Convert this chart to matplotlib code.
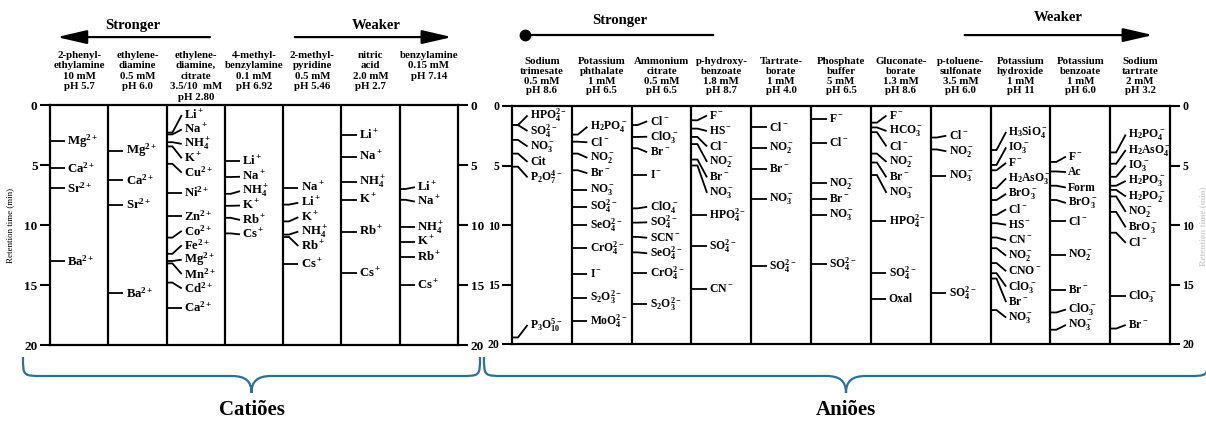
import numpy as np
import matplotlib
matplotlib.use("Agg")
import matplotlib.pyplot as plt
from matplotlib.path import Path
from matplotlib.patches import PathPatch

plt.rcParams.update({
    "font.family": ["Liberation Serif", "DejaVu Serif"],
    "font.weight": "bold",
    "mathtext.fontset": "custom",
    "mathtext.rm": "Liberation Serif:bold",
    "mathtext.it": "Liberation Serif:bold",
    "mathtext.bf": "Liberation Serif:bold",
    "mathtext.sf": "Liberation Serif:bold",
    "mathtext.default": "rm",
})

# ---------------- data ----------------
cation_headers = [
    "2-phenyl-\nethylamine\n10 mM\npH 5.7",
    "ethylene-\ndiamine\n0.5 mM\npH 6.0",
    "ethylene-\ndiamine,\ncitrate\n3.5/10  mM\npH 2.80",
    "4-methyl-\nbenzylamine\n0.1 mM\npH 6.92",
    "2-methyl-\npyridine\n0.5 mM\npH 5.46",
    "nitric\nacid\n2.0 mM\npH 2.7",
    "benzylamine\n0.15 mM\npH 7.14",
]
cation_ions = [
    ["Mg$^{2+}$", "Ca$^{2+}$", "Sr$^{2+}$", "Ba$^{2+}$"],
    ["Mg$^{2+}$", "Ca$^{2+}$", "Sr$^{2+}$", "Ba$^{2+}$"],
    ["Li$^+$", "Na$^+$", "NH$_4^+$", "K$^+$", "Cu$^{2+}$", "Ni$^{2+}$", "Zn$^{2+}$",
     "Co$^{2+}$", "Fe$^{2+}$", "Mg$^{2+}$", "Mn$^{2+}$", "Cd$^{2+}$", "Ca$^{2+}$"],
    ["Li$^+$", "Na$^+$", "NH$_4^+$", "K$^+$", "Rb$^+$", "Cs$^+$"],
    ["Na$^+$", "Li$^+$", "K$^+$", "NH$_4^+$", "Rb$^+$", "Cs$^+$"],
    ["Li$^+$", "Na$^+$", "NH$_4^+$", "K$^+$", "Rb$^+$", "Cs$^+$"],
    ["Li$^+$", "Na$^+$", "NH$_4^+$", "K$^+$", "Rb$^+$", "Cs$^+$"],
]
cation_times = [
    [3.0, 5.25, 6.9, 13.0],
    [3.8, 6.25, 8.3, 15.7],
    [2.3, 2.45, 3.1, 3.45, 4.9, 7.3, 9.25, 11.05, 12.4, 13.0, 13.2, 14.8, 16.9],
    [4.7, 6.0, 7.4, 8.4, 9.4, 10.7],
    [6.9, 8.3, 9.7, 10.8, 11.0, 13.25],
    [2.5, 4.3, 6.4, 7.9, 10.55, 14.0],
    [7.0, 7.9, 10.2, 11.4, 12.7, 15.0],
]

anion_headers = [
    "Sodium\ntrimesate\n0.5 mM\npH 8.6",
    "Potassium\nphthalate\n1 mM\npH 6.5",
    "Ammonium\ncitrate\n0.5 mM\npH 6.5",
    "p-hydroxy-\nbenzoate\n1.8 mM\npH 8.7",
    "Tartrate-\nborate\n1 mM\npH 4.0",
    "Phosphate\nbuffer\n5 mM\npH 6.5",
    "Gluconate-\nborate\n1.3 mM\npH 8.6",
    "p-toluene-\nsulfonate\n3.5 mM\npH 6.0",
    "Potassium\nhydroxide\n1 mM\npH 11",
    "Potassium\nbenzoate\n1 mM\npH 6.0",
    "Sodium\ntartrate\n2 mM\npH 3.2",
]
anion_ions = [
    ["HPO$_4^{2-}$", "SO$_4^{2-}$", "NO$_3^-$", "Cit", "P$_2$O$_7^{4-}$", "P$_3$O$_{10}^{5-}$"],
    ["H$_2$PO$_4^-$", "Cl$^-$", "NO$_2^-$", "Br$^-$", "NO$_3^-$", "SO$_4^{2-}$", "SeO$_4^{2-}$",
     "CrO$_4^{2-}$", "I$^-$", "S$_2$O$_3^{2-}$", "MoO$_4^{2-}$"],
    ["Cl$^-$", "ClO$_3^-$", "Br$^-$", "I$^-$", "ClO$_4^-$", "SO$_4^{2-}$", "SCN$^-$",
     "SeO$_4^{2-}$", "CrO$_4^{2-}$", "S$_2$O$_3^{2-}$"],
    ["F$^-$", "HS$^-$", "Cl$^-$", "NO$_2^-$", "Br$^-$", "NO$_3^-$", "HPO$_4^{2-}$",
     "SO$_4^{2-}$", "CN$^-$"],
    ["Cl$^-$", "NO$_2^-$", "Br$^-$", "NO$_3^-$", "SO$_4^{2-}$"],
    ["F$^-$", "Cl$^-$", "NO$_2^-$", "Br$^-$", "NO$_3^-$", "SO$_4^{2-}$"],
    ["F$^-$", "HCO$_3^-$", "Cl$^-$", "NO$_2^-$", "Br$^-$", "NO$_3^-$", "HPO$_4^{2-}$",
     "SO$_4^{2-}$", "Oxal"],
    ["Cl$^-$", "NO$_2^-$", "NO$_3^-$", "SO$_4^{2-}$"],
    ["H$_3$SiO$_4^-$", "IO$_3^-$", "F$^-$", "H$_2$AsO$_3^-$", "BrO$_3^-$", "Cl$^-$", "HS$^-$",
     "CN$^-$", "NO$_2^-$", "CNO$^-$", "ClO$_3^-$", "Br$^-$", "NO$_3^-$"],
    ["F$^-$", "Ac", "Form", "BrO$_3^-$", "Cl$^-$", "NO$_2^-$", "Br$^-$", "ClO$_3^-$", "NO$_3^-$"],
    ["H$_2$PO$_4^-$", "H$_2$AsO$_4^-$", "IO$_3^-$", "H$_2$PO$_3^-$", "H$_2$PO$_2^-$", "NO$_2^-$",
     "BrO$_3^-$", "Cl$^-$", "ClO$_3^-$", "Br$^-$"],
]
anion_times = [
    [1.6, 1.6, 2.85, 4.0, 5.1, 19.45],
    [2.4, 3.0, 4.0, 5.4, 7.05, 8.45, 10.0, 11.95, 14.15, 16.1, 18.1],
    [1.6, 2.6, 3.55, 5.8, 8.6, 9.8, 11.0, 12.3, 14.05, 16.65],
    [1.2, 1.9, 2.6, 3.2, 4.5, 5.0, 9.15, 11.8, 15.4],
    [1.8, 3.5, 5.3, 7.8, 13.45],
    [1.1, 3.1, 6.5, 7.85, 9.15, 13.3],
    [1.4, 1.8, 2.2, 4.0, 4.75, 5.8, 9.65, 14.05, 16.2],
    [2.65, 3.65, 5.85, 15.7],
    [3.7, 4.95, 5.4, 6.9, 7.9, 9.15, 9.85, 11.05, 11.95, 13.2, 14.05, 14.5, 17.15],
    [4.7, 5.5, 6.7, 7.9, 9.7, 12.5, 15.5, 17.35, 18.8],
    [3.9, 4.85, 5.95, 6.7, 7.05, 7.6, 8.9, 10.65, 16.0, 18.7],
]
y_ticks = [0, 5, 10, 15, 20]


# ---------------- helpers ----------------
def spread(times, gap, lo, hi):
    """Label positions: closest to the times with a minimum spacing (PAVA)."""
    t = np.asarray(times, float)
    order = np.argsort(t, kind="stable")
    ts = t[order]
    n = len(ts)
    z = ts - gap * np.arange(n)
    blocks = []
    for v in z:
        blocks.append([v, 1])
        while len(blocks) > 1 and blocks[-2][0] / blocks[-2][1] > blocks[-1][0] / blocks[-1][1]:
            s, c = blocks.pop()
            blocks[-1][0] += s
            blocks[-1][1] += c
    fit = np.concatenate([[s / c] * c for s, c in blocks])
    p = fit + gap * np.arange(n)
    p[-1] = min(p[-1], hi)
    for i in range(n - 2, -1, -1):
        p[i] = min(p[i], p[i + 1] - gap)
    p[0] = max(p[0], lo)
    for i in range(1, n):
        p[i] = max(p[i], p[i - 1] + gap)
    out = np.empty(n)
    out[order] = p
    return out


W, H = 1206, 421
fig = plt.figure(figsize=(W / 100, H / 100), dpi=100)


def px_axes(x0, x1, y0, y1):
    return fig.add_axes([x0 / W, 1 - y1 / H, (x1 - x0) / W, (y1 - y0) / H])


def draw_panel(ax, headers, ions, times, fs_ion, fs_tick, gap, hy0, hstep, hi):
    n = len(headers)
    ax.set_xlim(0, n)
    ax.set_ylim(20, 0)
    ax.set_xticks([])
    ax.set_yticks(y_ticks)
    ax.tick_params(axis="y", left=True, right=True, labelleft=True, labelright=True,
                   direction="out", length=7.5, width=1.5, pad=1.5, labelsize=fs_tick)
    for s in ax.spines.values():
        s.set_linewidth(1.6)
    for i in range(1, n):
        ax.axvline(i, color="k", lw=1.6)
    for i, (names, ts) in enumerate(zip(ions, times)):
        ys = spread(ts, gap, 0.8, hi)
        for name, t, y in zip(names, ts, ys):
            ax.plot([i, i + 0.1, i + 0.26], [t, t, y], color="k", lw=1.3,
                    solid_capstyle="butt", solid_joinstyle="miter")
            ax.text(i + 0.3, y, name, fontsize=fs_ion, va="center", ha="left")
    trans = ax.get_xaxis_transform()
    for i, h in enumerate(headers):
        for j, line in enumerate(h.split("\n")):
            ax.text(i + 0.5, hy0 - j * hstep, line, transform=trans, ha="center",
                    va="center", fontsize=7.8)


axC = px_axes(50, 458, 105, 345)
axA = px_axes(512, 1170, 106, 344)

draw_panel(axC, cation_headers, cation_ions, cation_times, 9.2, 9.5, 1.2, 1.208, 0.044, 18.3)
draw_panel(axA, anion_headers, anion_ions, anion_times, 8.4, 8.5, 1.3, 1.185, 0.04, 18.4)

axC.set_ylabel("Retention time (min)", fontsize=6.5, labelpad=7)

# direction arrows
arrow_kw = dict(arrowstyle="-|>,head_length=1.3,head_width=0.3", lw=1.6, color="k",
                shrinkA=0, shrinkB=0, mutation_scale=14)
axC.text(0.203, 1.333, "Stronger", transform=axC.transAxes, ha="center", va="center", fontsize=10.5)
axC.annotate("", xy=(0.017, 1.283), xytext=(0.392, 1.283), xycoords="axes fraction", arrowprops=arrow_kw)
axC.text(0.80, 1.333, "Weaker", transform=axC.transAxes, ha="center", va="center", fontsize=10.5)
axC.annotate("", xy=(0.985, 1.283), xytext=(0.60, 1.283), xycoords="axes fraction", arrowprops=arrow_kw)

axA.text(0.164, 1.361, "Stronger", transform=axA.transAxes, ha="center", va="center", fontsize=10.5)
axA.plot([0.02, 0.305], [1.298, 1.298], transform=axA.transAxes, color="k", lw=1.6, clip_on=False)
axA.plot([0.02], [1.298], transform=axA.transAxes, marker="o", ms=7.5, color="k", clip_on=False)
axA.text(0.83, 1.37, "Weaker", transform=axA.transAxes, ha="center", va="center", fontsize=10.5)
axA.annotate("", xy=(0.974, 1.298), xytext=(0.688, 1.298), xycoords="axes fraction", arrowprops=arrow_kw)

fig.text(1203 / W, 1 - 226 / H, "Retention time (min)", rotation=90, color="#d0d0d0",
         fontsize=6.5, ha="center", va="center")

# braces + group labels (overlay in pixel space)
ov = fig.add_axes([0, 0, 1, 1])
ov.set_xlim(0, W)
ov.set_ylim(H, 0)
ov.axis("off")
ov.patch.set_alpha(0)

brace_color = "#2f6f96"


def brace(x0, x1, ytop=357, ybar=376, ytip=393, r=20):
    xm = (x0 + x1) / 2
    verts = [
        (x0, ytop), (x0, ybar), (x0, ybar), (x0 + r, ybar),
        (xm - r, ybar),
        (xm - 0.3 * r, ybar), (xm, ybar + 0.3 * (ytip - ybar)), (xm, ytip),
        (xm, ybar + 0.3 * (ytip - ybar)), (xm + 0.3 * r, ybar), (xm + r, ybar),
        (x1 - r, ybar),
        (x1, ybar), (x1, ybar), (x1, ytop),
    ]
    codes = [Path.MOVETO, Path.CURVE4, Path.CURVE4, Path.CURVE4,
             Path.LINETO,
             Path.CURVE4, Path.CURVE4, Path.CURVE4,
             Path.CURVE4, Path.CURVE4, Path.CURVE4,
             Path.LINETO,
             Path.CURVE4, Path.CURVE4, Path.CURVE4]
    ov.add_patch(PathPatch(Path(verts, codes), fill=False, ec=brace_color, lw=1.6))
    return xm


xc = brace(23, 480)
xa = brace(484, 1208)
ov.text(xc, 410, "Catiões", ha="center", va="center", fontsize=15)
ov.text(xa, 410, "Aniões", ha="center", va="center", fontsize=15)

fig.savefig("out.png", dpi=100)
